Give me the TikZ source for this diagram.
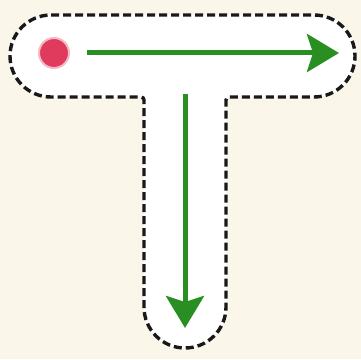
\documentclass[tikz,border=0pt]{standalone}
\usetikzlibrary{arrows.meta}
\definecolor{bg}{HTML}{FBF6EA}
\definecolor{arrowgreen}{HTML}{2A8F22}
\definecolor{dotred}{HTML}{E03A5C}
\tikzset{
  outline/.style={draw=black!90, line width=3.4pt, dash pattern=on 8pt off 4pt, fill=white},
  flow/.style={draw=arrowgreen, line width=5pt, -{Stealth[length=32pt, width=38pt, inset=6pt]}},
  startdot/.style={circle, fill=dotred, draw=dotred!35, line width=2pt, minimum size=30pt, inner sep=0pt}
}
\begin{document}
\begin{tikzpicture}[x=1pt,y=1pt]
\fill[bg] (0,0) rectangle (361,359);
\useasboundingbox (0,0) rectangle (361,359);
% T-shaped dashed outline
\path[outline]
  (51,344) -- (314,344) arc[start angle=90, end angle=-90, radius=41]
  -- (229,262) arc[start angle=90, end angle=180, radius=3]
  -- (226,52) arc[start angle=0, end angle=-180, radius=41]
  -- (144,259) arc[start angle=0, end angle=90, radius=3]
  -- (51,262) arc[start angle=270, end angle=90, radius=41] -- cycle;
\node[startdot] (dot) at (54,306) {};
\coordinate (hs) at (87,306);
\coordinate (he) at (339,306);
\coordinate (vs) at (185,265);
\coordinate (ve) at (185,31);
\draw[flow] (hs) -- (he);
\draw[flow] (vs) -- (ve);
\end{tikzpicture}
\end{document}
